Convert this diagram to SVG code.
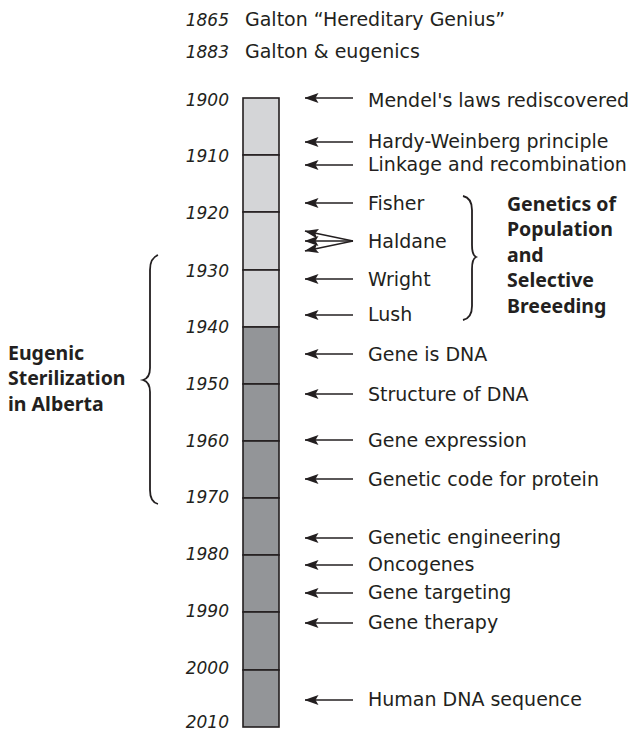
<svg xmlns="http://www.w3.org/2000/svg" width="633" height="732" viewBox="0 0 633 732">
<style>
text{font-family:"DejaVu Sans","Noto Sans","Liberation Sans",sans-serif;font-size:19px;fill:#231f20}
.yr{font-style:italic;font-size:17px;text-anchor:end}
.b{font-family:"Noto Sans","DejaVu Sans",sans-serif;font-weight:bold;font-size:19.5px}
.lt{fill:#d4d5d7;stroke:#231f20;stroke-width:1.6}
.dk{fill:#939598;stroke:#231f20;stroke-width:1.6}
.ar{stroke:#231f20;stroke-width:1.3;fill:none;marker-end:url(#ah)}
.br{stroke:#231f20;stroke-width:1.8;fill:none}
</style>
<defs>
<marker id="ah" viewBox="0 0 14 10" refX="13.5" refY="5" markerWidth="14" markerHeight="10" markerUnits="userSpaceOnUse" orient="auto">
<path d="M0,0 L14,5 L0,10 L3,5 Z" fill="#231f20"/>
</marker>
</defs>
<g id="intro">
<text class="yr" x="229" y="26">1865</text><text x="245" y="26">Galton “Hereditary Genius”</text>
<text class="yr" x="229" y="58">1883</text><text x="245" y="58">Galton &amp; eugenics</text>
</g>
<g id="bar">
<rect class="lt" x="243" y="98" width="36" height="57"/>
<rect class="lt" x="243" y="155" width="36" height="57"/>
<rect class="lt" x="243" y="212" width="36" height="58"/>
<rect class="lt" x="243" y="270" width="36" height="57"/>
<rect class="dk" x="243" y="327" width="36" height="57"/>
<rect class="dk" x="243" y="384" width="36" height="57"/>
<rect class="dk" x="243" y="441" width="36" height="57"/>
<rect class="dk" x="243" y="498" width="36" height="57"/>
<rect class="dk" x="243" y="555" width="36" height="57"/>
<rect class="dk" x="243" y="612" width="36" height="58"/>
<rect class="dk" x="243" y="670" width="36" height="57"/>
</g>
<g id="years">
<text class="yr" x="229" y="106">1900</text>
<text class="yr" x="229" y="162">1910</text>
<text class="yr" x="229" y="219">1920</text>
<text class="yr" x="229" y="277">1930</text>
<text class="yr" x="229" y="333">1940</text>
<text class="yr" x="229" y="390">1950</text>
<text class="yr" x="229" y="447">1960</text>
<text class="yr" x="229" y="503">1970</text>
<text class="yr" x="229" y="560">1980</text>
<text class="yr" x="229" y="617">1990</text>
<text class="yr" x="229" y="674">2000</text>
<text class="yr" x="229" y="728">2010</text>
</g>
<g id="connectors">
<line class="ar" x1="353" y1="98" x2="305" y2="98"/>
<line class="ar" x1="353" y1="142" x2="305" y2="142"/>
<line class="ar" x1="353" y1="165" x2="305" y2="165"/>
<line class="ar" x1="353" y1="203" x2="305" y2="203"/>
<line class="ar" x1="353" y1="241" x2="305" y2="231"/>
<line class="ar" x1="353" y1="241" x2="305" y2="241"/>
<line class="ar" x1="353" y1="241" x2="305" y2="251"/>
<line class="ar" x1="353" y1="279" x2="305" y2="279"/>
<line class="ar" x1="353" y1="315" x2="305" y2="315"/>
<line class="ar" x1="353" y1="354" x2="305" y2="354"/>
<line class="ar" x1="353" y1="394" x2="305" y2="394"/>
<line class="ar" x1="353" y1="440" x2="305" y2="440"/>
<line class="ar" x1="353" y1="479" x2="305" y2="479"/>
<line class="ar" x1="353" y1="538" x2="305" y2="538"/>
<line class="ar" x1="353" y1="565" x2="305" y2="565"/>
<line class="ar" x1="353" y1="593" x2="305" y2="593"/>
<line class="ar" x1="353" y1="623" x2="305" y2="623"/>
<line class="ar" x1="353" y1="700" x2="305" y2="700"/>
</g>
<g id="events">
<text x="368" y="107">Mendel's laws rediscovered</text>
<text x="368" y="148">Hardy-Weinberg principle</text>
<text x="368" y="171">Linkage and recombination</text>
<text x="368" y="210">Fisher</text>
<text x="368" y="248">Haldane</text>
<text x="368" y="286">Wright</text>
<text x="368" y="321">Lush</text>
<text x="368" y="361">Gene is DNA</text>
<text x="368" y="401">Structure of DNA</text>
<text x="368" y="447">Gene expression</text>
<text x="368" y="486">Genetic code for protein</text>
<text x="368" y="544">Genetic engineering</text>
<text x="368" y="571">Oncogenes</text>
<text x="368" y="599">Gene targeting</text>
<text x="368" y="629">Gene therapy</text>
<text x="368" y="706">Human DNA sequence</text>
</g>
<g id="population">
<path class="br" d="M463,196 Q472,198 472,210 L472,245 Q472,255 476,257 Q472,259 472,269 L472,306 Q472,318 463,320"/>
<text class="b" x="507" y="211">Genetics of</text>
<text class="b" x="507" y="236">Population</text>
<text class="b" x="507" y="262">and</text>
<text class="b" x="507" y="287">Selective</text>
<text class="b" x="507" y="313">Breeeding</text>
</g>
<g id="alberta">
<path class="br" d="M158,255 Q150,258 150,270 L150,368 Q150,378 143,380 Q150,382 150,392 L150,490 Q150,502 158,504"/>
<text class="b" x="8" y="360">Eugenic</text>
<text class="b" x="8" y="385">Sterilization</text>
<text class="b" x="8" y="411">in Alberta</text>
</g>
</svg>
